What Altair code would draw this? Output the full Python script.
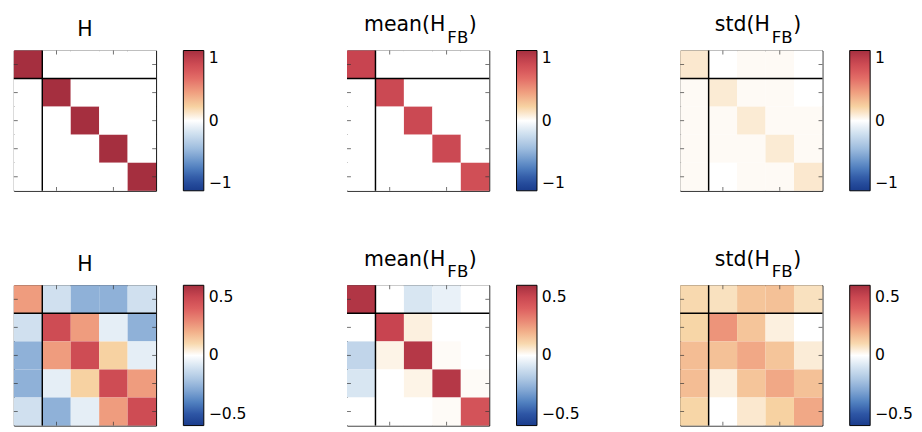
import altair as alt
import pandas as pd

# ---- data (5x5 matrices, row 1 at top) ----
H_TOP = [
    [1.0, 0.0, 0.0, 0.0, 0.0],
    [0.0, 1.0, 0.0, 0.0, 0.0],
    [0.0, 0.0, 1.0, 0.0, 0.0],
    [0.0, 0.0, 0.0, 1.0, 0.0],
    [0.0, 0.0, 0.0, 0.0, 1.0],
]
MEAN_TOP = [
    [0.85, 0.0, 0.0, 0.0, 0.0],
    [0.0, 0.82, 0.0, 0.0, 0.0],
    [0.0, 0.0, 0.82, 0.0, 0.0],
    [0.0, 0.0, 0.0, 0.82, 0.0],
    [0.0, 0.0, 0.0, 0.0, 0.78],
]
STD_TOP = [
    [0.10, 0.0, 0.02, 0.02, 0.0],
    [0.02, 0.09, 0.02, 0.02, 0.0],
    [0.02, 0.02, 0.09, 0.02, 0.02],
    [0.02, 0.02, 0.02, 0.09, 0.02],
    [0.02, 0.0, 0.02, 0.02, 0.10],
]
H_BOT = [
    [0.25, -0.11, -0.27, -0.27, -0.11],
    [-0.11, 0.48, 0.25, -0.06, -0.27],
    [-0.27, 0.25, 0.48, 0.12, -0.06],
    [-0.27, -0.06, 0.12, 0.48, 0.25],
    [-0.11, -0.27, -0.06, 0.25, 0.48],
]
MEAN_BOT = [
    [0.57, 0.0, -0.09, -0.05, 0.0],
    [0.0, 0.51, 0.04, 0.0, 0.0],
    [-0.15, 0.03, 0.56, 0.01, 0.0],
    [-0.09, 0.0, 0.03, 0.56, 0.01],
    [0.0, 0.0, 0.0, 0.01, 0.45],
]
STD_BOT = [
    [0.10, 0.08, 0.15, 0.16, 0.08],
    [0.11, 0.27, 0.15, 0.04, 0.0],
    [0.17, 0.16, 0.22, 0.15, 0.05],
    [0.17, 0.04, 0.15, 0.22, 0.16],
    [0.11, 0.0, 0.06, 0.12, 0.22],
]

VMAX_TOP = 1.0
VMAX_BOT = 0.6
TICKS_TOP = [-1, 0, 1]
TICKS_BOT = [-0.5, 0, 0.5]

# colormap stops (fraction of vmax) and colours
CMAP_POS = [-1.0, -0.85, -0.67, -0.39, -0.15, 0.0, 0.19, 0.40, 0.64, 0.85, 1.0]
CMAP_COL = ["#1a3c8c", "#2a52a2", "#5080c0", "#a0bedf", "#d8e6f2", "#ffffff",
            "#f7d4a4", "#f0a080", "#e06462", "#c84450", "#a52f3f"]

FONT = "DejaVu Sans"
W, HT = 146, 144
DOM = [0.5, 5.5]


def to_long(mat):
    rows = []
    for i, r in enumerate(mat):
        for j, v in enumerate(r):
            rows.append({"r0": i + 0.5, "r1": i + 1.5, "c0": j + 0.5, "c1": j + 1.5, "v": v})
    return pd.DataFrame(rows)


def panel(mat, vmax, ticks, title):
    xs = alt.Scale(domain=DOM, nice=False, zero=False)
    ys = alt.Scale(domain=DOM, nice=False, zero=False, reverse=True)
    cscale = alt.Scale(type="linear", domain=[p * vmax for p in CMAP_POS], range=CMAP_COL,
                       clamp=True, zero=False, nice=False, interpolate="rgb")
    heat = alt.Chart(to_long(mat)).mark_rect(strokeWidth=0, opacity=1).encode(
        x=alt.X("c0:Q", scale=xs, axis=None),
        x2="c1:Q",
        y=alt.Y("r0:Q", scale=ys, axis=None),
        y2="r1:Q",
        color=alt.Color(
            "v:Q", scale=cscale,
            legend=alt.Legend(
                title=None, orient="right", offset=28, padding=0,
                gradientLength=HT, gradientThickness=21,
                gradientStrokeColor="black", gradientStrokeWidth=1,
                gradientOpacity=1,
                values=ticks, format="~g",
                labelExpr="replace(datum.label, '-', '\u2212')",
                labelFont=FONT, labelFontSize=16, labelColor="black", labelOffset=5,
            ),
        ),
    )
    seps = pd.DataFrame({
        "x0": [0.5, 1.5], "x1": [5.5, 1.5], "y0": [1.5, 0.5], "y1": [1.5, 5.5]
    })
    sep = alt.Chart(seps).mark_rule(color="black", strokeWidth=1.5).encode(
        x=alt.X("x0:Q", scale=xs), x2="x1:Q",
        y=alt.Y("y0:Q", scale=ys), y2="y1:Q",
    )
    xt = pd.DataFrame({"p": [2, 4]})
    yt = pd.DataFrame({"p": [1, 2, 3, 4, 5]})
    tk = dict(color="#333333", thickness=1, size=4)
    t_top = alt.Chart(xt).mark_tick(orient="vertical", **tk).encode(
        x=alt.X("p:Q", scale=xs), y=alt.value(2))
    t_bot = alt.Chart(xt).mark_tick(orient="vertical", **tk).encode(
        x=alt.X("p:Q", scale=xs), y=alt.value(HT - 2))
    t_lft = alt.Chart(yt).mark_tick(orient="horizontal", **tk).encode(
        y=alt.Y("p:Q", scale=ys), x=alt.value(2))
    t_rgt = alt.Chart(yt).mark_tick(orient="horizontal", **tk).encode(
        y=alt.Y("p:Q", scale=ys), x=alt.value(W - 2))

    layers = [heat, sep, t_top, t_bot, t_lft, t_rgt]
    base, sub, anchor = title
    if sub is None:
        layers.append(alt.Chart(pd.DataFrame({"t": [base]})).mark_text(
            font=FONT, fontSize=21, align="center", baseline="alphabetic", color="black"
        ).encode(text="t:N", x=alt.value(W / 2), y=alt.value(-15)))
    else:
        layers.append(alt.Chart(pd.DataFrame({"t": [base]})).mark_text(
            font=FONT, fontSize=21, align="right", baseline="alphabetic", color="black"
        ).encode(text="t:N", x=alt.value(anchor), y=alt.value(-20)))
        layers.append(alt.Chart(pd.DataFrame({"t": [sub]})).mark_text(
            font=FONT, fontSize=17, align="left", baseline="alphabetic", color="black"
        ).encode(text="t:N", x=alt.value(anchor + 2), y=alt.value(-8)))
        layers.append(alt.Chart(pd.DataFrame({"t": [")"]})).mark_text(
            font=FONT, fontSize=21, align="left", baseline="alphabetic", color="black"
        ).encode(text="t:N", x=alt.value(anchor + 24), y=alt.value(-20)))
    return alt.layer(*layers).properties(width=W, height=HT)


TITLES = [("H", None, 0), ("mean(H", "FB", 101), ("std(H", "FB", 92)]

panels = [
    panel(H_TOP, VMAX_TOP, TICKS_TOP, TITLES[0]),
    panel(MEAN_TOP, VMAX_TOP, TICKS_TOP, TITLES[1]),
    panel(STD_TOP, VMAX_TOP, TICKS_TOP, TITLES[2]),
    panel(H_BOT, VMAX_BOT, TICKS_BOT, TITLES[0]),
    panel(MEAN_BOT, VMAX_BOT, TICKS_BOT, TITLES[1]),
    panel(STD_BOT, VMAX_BOT, TICKS_BOT, TITLES[2]),
]

chart = alt.concat(*panels, columns=3, spacing={"row": 57, "column": 100}).resolve_scale(
    color="independent"
).resolve_legend(color="independent").properties(
    padding={"left": 4, "top": 0, "right": 0, "bottom": 0}
).configure_view(stroke="black", strokeWidth=1)

chart.save("out.html", embed_options={"renderer": "svg", "actions": False})
